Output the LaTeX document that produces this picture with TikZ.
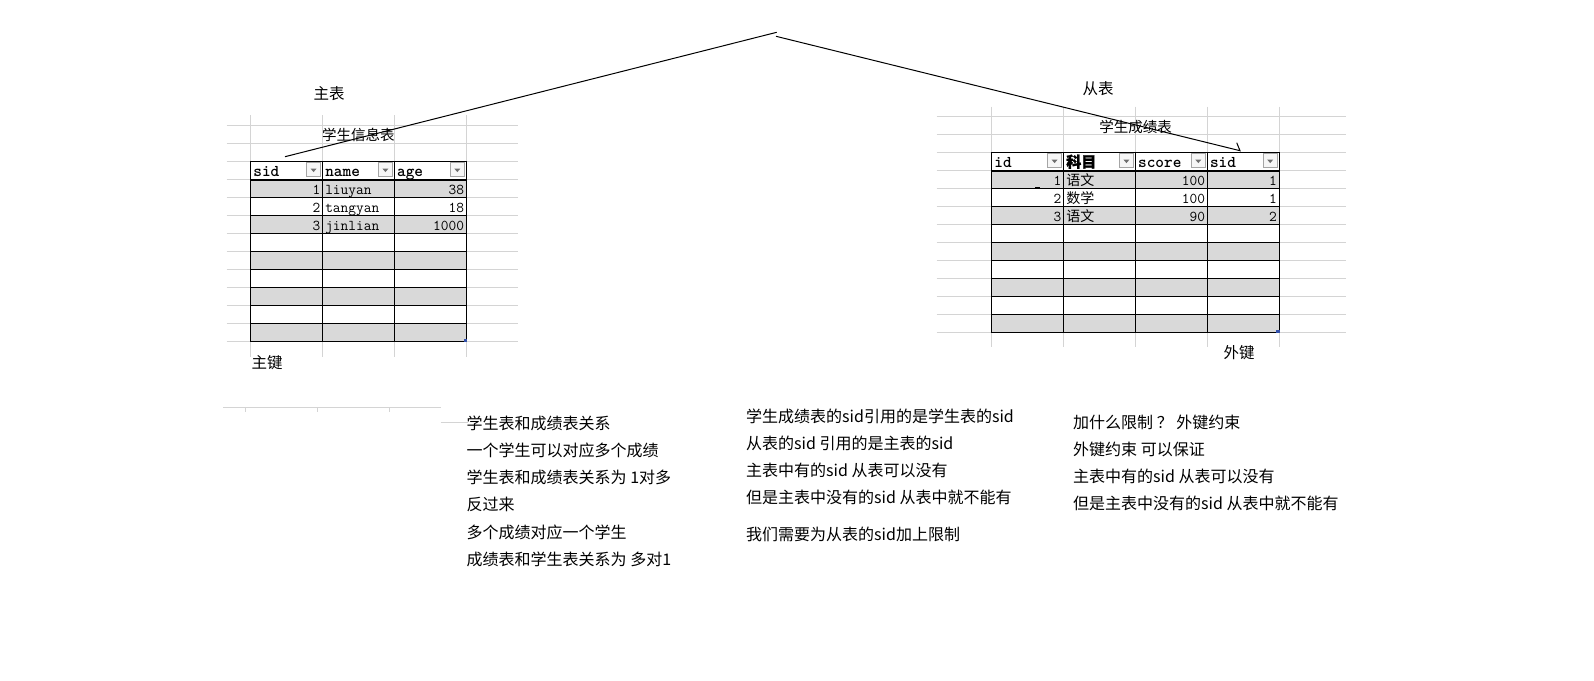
\documentclass[tikz,border=0pt]{standalone}
\usepackage{fontspec}
\usepackage{tikz}
\usetikzlibrary{matrix, positioning}

\newfontfamily\cjk{Noto Sans CJK SC}
\newfontfamily\cjkbold[FakeBold=1.5]{Noto Sans CJK SC}

\newcommand{\datafont}{\ttfamily\fontsize{15}{15}\selectfont}
\newcommand{\headfont}{\ttfamily\bfseries\fontsize{16.5}{17}\selectfont}
\newcommand{\notefont}{\cjk\fontsize{16}{18}\selectfont}
\newcommand{\zh}[1]{{\cjk\fontsize{14}{15}\selectfont #1}}
\newcommand{\zhb}[1]{{\cjkbold\fontsize{15}{16}\selectfont #1}}

\definecolor{gridgray}{RGB}{212,212,212}
\definecolor{cellgray}{RGB}{217,217,217}
\definecolor{btnedge}{RGB}{165,165,165}
\definecolor{btnface}{RGB}{246,246,246}
\definecolor{btnmark}{RGB}{110,110,110}
\definecolor{handleblue}{RGB}{50,80,170}

\tikzset{
    gridline/.style={draw=gridgray, line width=1pt},
    cell/.style={draw, line width=1pt, text width=66.87pt, inner xsep=2.5pt, inner ysep=0pt,
        minimum height=17.96pt, text height=12pt, text depth=1pt, align=left, font=\datafont},
    datatab/.style={matrix of nodes, nodes in empty cells, inner sep=0pt, anchor=north west,
        column sep=-1pt, row sep=-1pt, nodes={cell},
        every even row/.style={nodes={fill=cellgray}},
        row 1/.style={nodes={font=\headfont, align=left}}},
    dropbtn/.style={draw=btnedge, fill=btnface, line width=0.8pt, minimum size=14pt, inner sep=0pt,
        path picture={\fill[btnmark] ([shift={(-3,-1.2)}]path picture bounding box.center)
            -- ++(6,0) -- ++(-3,3.5) -- cycle;}},
    sheetlabel/.style={font=\cjk\fontsize{15.5}{17}\selectfont, inner sep=0pt},
    tabtitle/.style={font=\cjk\fontsize{14.5}{16}\selectfont, inner sep=0pt},
    note/.style={font=\notefont, anchor=west, inner sep=0pt},
    link/.style={draw, line width=1pt}
}

\begin{document}
\begin{tikzpicture}[x=1pt, y=-1pt]
        \fill[white] (0,0) rectangle (1594,680);
        \useasboundingbox (0,0) rectangle (1594,680);

        % Sheet grid behind the tables
        \foreach \y in {125,143.3} \draw[gridline] (226.7,\y) -- (517.7,\y);
        \foreach \k in {0,...,10} \draw[gridline] (226.7,161.7+17.96*\k) -- (517.7,161.7+17.96*\k);
        \foreach \x in {250.7,322.6,394.4,466.3} \draw[gridline] (\x,115) -- (\x,356.7);

        \foreach \y in {116.7,134.7} \draw[gridline] (936.7,\y) -- (1346,\y);
        \foreach \k in {0,...,10} \draw[gridline] (936.7,152.7+18*\k) -- (1346,152.7+18*\k);
        \foreach \k in {0,...,4} \draw[gridline] (991.7+71.9*\k,106.7) -- (991.7+71.9*\k,346.7);

        \draw[gridline] (223.3,407.3) -- (440.7,407.3);
        \foreach \x in {245,317.3,389.3} \draw[gridline] (\x,407.3) -- (\x,412);
        \draw[gridline] (440.7,422.5) -- (468,422.5);

        % Create tables
        \matrix (stuTab) [datatab, column 1/.style={nodes={align=right}},
            column 3/.style={nodes={align=right}}] at (250.2,161.2)
        {
            sid & name & age \\
            1 & liuyan & 38 \\
            2 & tangyan & 18 \\
            3 & jinlian & 1000 \\
            & & \\
            & & \\
            & & \\
            & & \\
            & & \\
            & & \\
        };

        \matrix (scoreTab) [datatab, column 1/.style={nodes={align=right}},
            column 3/.style={nodes={align=right}}, column 4/.style={nodes={align=right}}] at (991.2,152.2)
        {
            id & \zhb{科目} & score & sid \\
            1 & \zh{语文} & 100 & 1 \\
            2 & \zh{数学} & 100 & 1 \\
            3 & \zh{语文} & 90 & 2 \\
            & & & \\
            & & & \\
            & & & \\
            & & & \\
            & & & \\
            & & & \\
        };

        % Header rules, filter buttons, corner handles
        \draw[line width=1.8pt] (stuTab-1-1.south west) -- (stuTab-1-3.south east);
        \draw[line width=1.8pt] (scoreTab-1-1.south west) -- (scoreTab-1-4.south east);
        \foreach \c in {1,2,3} \node[dropbtn] (stuBtn\c) at ([shift={(-9.7,8.4)}]stuTab-1-\c.north east) {};
        \foreach \c in {1,2,3,4} \node[dropbtn] (scoreBtn\c) at ([shift={(-9.7,8.4)}]scoreTab-1-\c.north east) {};
        \fill[handleblue] ([shift={(-3.5,-3.5)}]stuTab-10-3.south east) rectangle (stuTab-10-3.south east);
        \fill[handleblue] ([shift={(-3.5,-3.5)}]scoreTab-10-4.south east) rectangle (scoreTab-10-4.south east);
        \draw[line width=1pt] (1035,187) -- (1040,187);

        % Labels
        \node[sheetlabel] (mainLbl) at (329,94) {主表};
        \node[sheetlabel] (subLbl) at (1098,88.3) {从表};
        \node[tabtitle] (stuTitle) at (358.3,134.7) {学生信息表};
        \node[tabtitle] (scoreTitle) at (1135.5,126.5) {学生成绩表};
        \node[sheetlabel] (pkLbl) at (267,363) {主键};
        \node[sheetlabel] (fkLbl) at (1239,353) {外键};

        % Link between the two sid columns
        \coordinate (linkFrom) at (285,156.7);
        \coordinate (peakL) at (776.7,32.3);
        \coordinate (peakR) at (776,36.3);
        \coordinate (fkTip) at (1240,150.7);
        \draw[link] (linkFrom) -- (peakL);
        \draw[link] (peakR) -- (fkTip) -- ++(-3.3,-8);

        % Notes
        \node[note] (relA) at (466.5,423.5) {学生表和成绩表关系};
        \node[below=27.1pt of relA.west, note] (relB) {一个学生可以对应多个成绩};
        \node[below=27.1pt of relB.west, note] (relC) {学生表和成绩表关系为 1对多};
        \node[below=27.1pt of relC.west, note] (relD) {反过来};
        \node[below=27.1pt of relD.west, note] (relE) {多个成绩对应一个学生};
        \node[below=27.1pt of relE.west, note] (relF) {成绩表和学生表关系为 多对1};

        \node[note] (refA) at (746,416.4) {学生成绩表的sid引用的是学生表的sid};
        \node[below=27.1pt of refA.west, note] (refB) {从表的sid 引用的是主表的sid};
        \node[below=27.1pt of refB.west, note] (refC) {主表中有的sid 从表可以没有};
        \node[below=27.1pt of refC.west, note] (refD) {但是主表中没有的sid 从表中就不能有};
        \node[below=36.7pt of refD.west, note] (refE) {我们需要为从表的sid加上限制};

        \node[note] (fkA) at (1073,422.5) {加什么限制 ？ 外键约束};
        \node[below=26.8pt of fkA.west, note] (fkB) {外键约束 可以保证};
        \node[below=26.8pt of fkB.west, note] (fkC) {主表中有的sid 从表可以没有};
        \node[below=26.8pt of fkC.west, note] (fkD) {但是主表中没有的sid 从表中就不能有};
\end{tikzpicture}
\end{document}
